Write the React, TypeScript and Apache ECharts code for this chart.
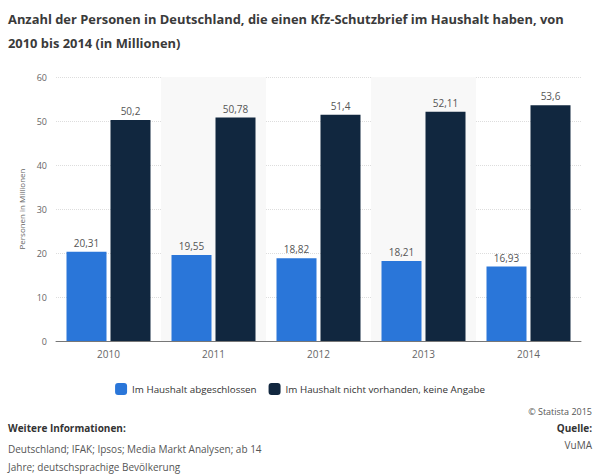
import React, { useEffect, useRef } from "react";
import * as echarts from "echarts";

const years = ["2010", "2011", "2012", "2013", "2014"];
const abgeschlossen = [20.31, 19.55, 18.82, 18.21, 16.93];
const nichtVorhanden = [50.2, 50.78, 51.4, 52.11, 53.6];
const seriesNames = ["Im Haushalt abgeschlossen", "Im Haushalt nicht vorhanden, keine Angabe"];
const titleLines = [
  "Anzahl der Personen in Deutschland, die einen Kfz-Schutzbrief im Haushalt haben, von",
  "2010 bis 2014 (in Millionen)",
];
const infoLines = [
  "Deutschland; IFAK; Ipsos; Media Markt Analysen; ab 14",
  "Jahre; deutschsprachige Bevölkerung",
];

const FONT = "'Open Sans', 'Noto Sans', sans-serif";

export default function App() {
  const ref = useRef<HTMLDivElement>(null);
  useEffect(() => {
    const chart = echarts.init(ref.current!, undefined, { renderer: "svg" });
    const fmt = (p: any) => String(p.value).replace(".", ",");
    chart.setOption({
      animation: false,
      backgroundColor: "#fff",
      textStyle: { fontFamily: FONT },
      grid: { left: 56, right: 19, top: 77, bottom: 135 },
      legend: {
        top: 378,
        left: "center",
        itemWidth: 12,
        itemHeight: 12,
        itemGap: 12,
        icon: "roundRect",
        textStyle: { fontSize: 9.8, color: "#333", fontFamily: FONT },
        data: seriesNames,
      },
      xAxis: {
        type: "category",
        data: years,
        axisLine: { lineStyle: { color: "#777", width: 1 } },
        axisTick: { show: false },
        axisLabel: { color: "#666", fontSize: 10, margin: 8, fontFamily: FONT },
        splitArea: { show: true, areaStyle: { color: ["rgba(255,255,255,0)", "#f8f8f8"] } },
      },
      yAxis: {
        type: "value",
        min: 0,
        max: 60,
        interval: 10,
        name: "Personen in Millionen",
        nameLocation: "middle",
        nameGap: 28,
        nameTextStyle: { fontSize: 8, color: "#666", fontFamily: FONT },
        axisLine: { show: false },
        axisTick: { show: false },
        axisLabel: { color: "#666", fontSize: 9, margin: 9, fontFamily: FONT },
        splitLine: { lineStyle: { color: "#ddd", type: "dotted" } },
      },
      series: [
        {
          name: seriesNames[0],
          type: "bar",
          data: abgeschlossen,
          barWidth: 40,
          barGap: "10%",
          itemStyle: { color: "#2a76d9" },
          label: { show: true, position: "top", distance: 4, fontSize: 10, color: "#555", formatter: fmt, fontFamily: FONT },
        },
        {
          name: seriesNames[1],
          type: "bar",
          data: nichtVorhanden,
          barWidth: 40,
          itemStyle: { color: "#11273f" },
          label: { show: true, position: "top", distance: 4, fontSize: 10, color: "#555", formatter: fmt, fontFamily: FONT },
        },
      ],
      graphic: [
        {
          type: "text",
          left: 8,
          top: 7,
          style: {
            text: titleLines.join("\n"),
            font: `bold 12.9px ${FONT}`,
            fill: "#3a3a3a",
            lineHeight: 24,
          },
        },
        {
          type: "text",
          right: 8,
          top: 407,
          style: { text: "© Statista 2015", font: `9px ${FONT}`, fill: "#555", textAlign: "right" },
        },
        {
          type: "text",
          left: 8,
          top: 423,
          style: { text: "Weitere Informationen:", font: `bold 10px ${FONT}`, fill: "#333" },
        },
        {
          type: "text",
          left: 8,
          top: 440,
          style: { text: infoLines.join("\n"), font: `10px ${FONT}`, fill: "#555", lineHeight: 18 },
        },
        {
          type: "text",
          right: 8,
          top: 423,
          style: { text: "Quelle:", font: `bold 10px ${FONT}`, fill: "#333", textAlign: "right" },
        },
        {
          type: "text",
          right: 8,
          top: 440,
          style: { text: "VuMA", font: `10px ${FONT}`, fill: "#555", textAlign: "right" },
        },
      ],
    });
    return () => chart.dispose();
  }, []);
  return <div ref={ref} style={{ width: 600, height: 476, position: "absolute", left: 0, top: 0 }} />;
}
